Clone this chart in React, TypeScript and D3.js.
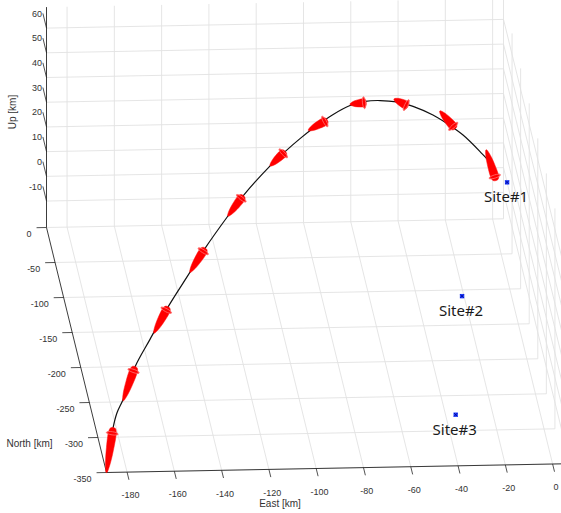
import React from "react";
import * as d3 from "d3";

const W = 561;
const H = 513;

// Axis limits (tight to data)
const eastLim: [number, number] = [-188.7, 4.6];
const northLim: [number, number] = [-350, 0];
const upLim: [number, number] = [-20.7, 68.5];

const eastTicks = [-180, -160, -140, -120, -100, -80, -60, -40, -20, 0];
const northTicks = [-350, -300, -250, -200, -150, -100, -50, 0];
const upTicks = [-10, 0, 10, 20, 30, 40, 50, 60];

// Trajectory (ENU, km)
const trajEast = [-188.7, -185.5, -183.6, -180.6, -174.8, -167.4, -158.7, -147.9, -140.6, -129.4, -122.0, -108.8, -101.5, -94.2, -86.3, -78.2, -69.8, -62.4, -55.1, -47.0, -39.0, -29.3, -21.9, -14.6, -6.3, -1.4, 0.5];
const trajNorth = [-350.0, -344.1, -340.5, -335.1, -324.3, -310.8, -294.6, -274.7, -261.3, -240.5, -227.0, -202.6, -189.1, -175.6, -161.0, -146.0, -130.6, -117.0, -103.6, -88.5, -73.8, -55.8, -42.3, -28.8, -13.5, -4.5, -1.0];
const trajUp = [-20.7, -4.4, 0.6, 4.5, 14.5, 21.8, 30.0, 38.3, 44.0, 51.0, 55.2, 60.2, 62.0, 63.3, 64.1, 64.3, 63.5, 61.2, 57.6, 52.6, 46.5, 37.7, 30.0, 21.7, 10.5, 3.3, -1.5];

// Missile markers: nose (head) and tail positions
const headEast = [-185.5, -174.8, -158.7, -140.6, -122.0, -101.5, -81.0, -62.0, -41.5, -18.5, 1.4];
const headNorth = [-344.1, -324.3, -294.6, -261.3, -227.0, -189.1, -151.3, -116.2, -78.3, -36.0, 0.0];
const headUp = [-4.4, 14.5, 30.0, 44.0, 55.2, 62.0, 63.6, 60.5, 48.0, 26.5, -5.0];
const tailEast = [-188.7, -180.6, -165.5, -147.9, -129.4, -108.8, -90.1, -69.8, -48.3, -25.9, -3.3];
const tailNorth = [-350.0, -335.1, -307.2, -274.7, -240.5, -202.6, -168.0, -130.6, -91.0, -49.6, -8.0];
const tailUp = [-20.7, 4.0, 23.2, 38.3, 51.0, 60.2, 64.4, 64.0, 54.5, 37.5, 9.6];

// Sites
const siteNames = ["Site#1", "Site#2", "Site#3"];
const siteEast = [4.6, -26.1, -41.0];
const siteNorth = [-21.0, -181.6, -350.0];
const siteUp = [0, 0, 0];

// ---- projection built from linear scales ----
const ORIGIN_X = 46.5; // screen of (east min, north max, up min)
const ORIGIN_Y = 227.5;
const eX = d3.scaleLinear().domain(eastLim).range([0, 457]);
const eY = d3.scaleLinear().domain(eastLim).range([0, -8.7]);
const nX = d3.scaleLinear().domain([northLim[1], northLim[0]]).range([0, 60]);
const nY = d3.scaleLinear().domain([northLim[1], northLim[0]]).range([0, 245]);
const uY = d3.scaleLinear().domain(upLim).range([0, -220.4]);

type Pt = [number, number];
function P(e: number, n: number, u: number): Pt {
  return [ORIGIN_X + eX(e) + nX(n), ORIGIN_Y + eY(e) + nY(n) + uY(u)];
}
const seg = (a: Pt, b: Pt) => `M${a[0].toFixed(2)},${a[1].toFixed(2)}L${b[0].toFixed(2)},${b[1].toFixed(2)}`;

const GRID = "#e2e2e2";
const AXIS = "#262626";
const TICKTXT = "#333333";
const tickFont = "'Liberation Sans', Arial, sans-serif";

function rocketShapes(h: Pt, t: Pt) {
  const dx = h[0] - t[0];
  const dy = h[1] - t[1];
  const L = Math.hypot(dx, dy) || 1;
  const ux = dx / L, uy = dy / L;
  const nx = -uy, ny = ux;
  const prof: [number, number][] = [
    [0, 0.4], [0.12, 1.8], [0.3, 2.9], [0.55, 3.7], [0.8, 4.1], [0.92, 3.8], [1.0, 2.2],
  ];
  const left = prof.map(([f, w]) => [t[0] + ux * L * f + nx * w, t[1] + uy * L * f + ny * w]);
  const right = prof.map(([f, w]) => [t[0] + ux * L * f - nx * w, t[1] + uy * L * f - ny * w]).reverse();
  const body = d3.line().curve(d3.curveCatmullRomClosed)([...left, ...right] as [number, number][]) || "";
  const fc: Pt = [t[0] + ux * L * 0.88, t[1] + uy * L * 0.88];
  const ang = (Math.atan2(uy, ux) * 180) / Math.PI;
  return { body, fc, ang };
}

export default function App() {
  const lines: string[] = [];
  const [e0, e1] = eastLim;
  const [n0, n1] = northLim;
  const [u0, u1] = upLim;

  // floor grid (up = min)
  eastTicks.forEach((e) => lines.push(seg(P(e, n0, u0), P(e, n1, u0))));
  northTicks.forEach((n) => lines.push(seg(P(e0, n, u0), P(e1, n, u0))));
  // back wall (north = max)
  eastTicks.forEach((e) => lines.push(seg(P(e, n1, u0), P(e, n1, u1))));
  upTicks.forEach((u) => lines.push(seg(P(e0, n1, u), P(e1, n1, u))));
  // side wall (east = max)
  northTicks.forEach((n) => lines.push(seg(P(e1, n, u0), P(e1, n, u1))));
  upTicks.forEach((u) => lines.push(seg(P(e1, n0, u), P(e1, n1, u))));

  const traj = trajEast.map((e, i) => P(e, trajNorth[i], trajUp[i]));
  const trajPath = d3.line().curve(d3.curveCatmullRom.alpha(0.5))(traj as [number, number][]) || "";

  const rockets = headEast.map((e, i) =>
    rocketShapes(P(e, headNorth[i], headUp[i]), P(tailEast[i], tailNorth[i], tailUp[i]))
  );

  return (
    <svg
      width={W}
      height={H}
      viewBox={`0 0 ${W} ${H}`}
      style={{ position: "absolute", left: 0, top: 0, background: "#fff" }}
    >
      <rect x={0} y={0} width={W} height={H} fill="#fff" />
      <path d={lines.join("")} stroke={GRID} strokeWidth={0.9} fill="none" />

      {/* axis lines */}
      <path
        d={seg(P(e0, n1, u0), P(e0, n1, u1)) + seg(P(e0, n1, u0), P(e0, n0, u0)) + seg(P(e0, n0, u0), P(e1, n0, u0))}
        stroke={AXIS}
        strokeWidth={0.9}
        fill="none"
      />

      {/* up ticks */}
      {upTicks.map((u) => {
        const a = P(e0, n1, u);
        const b = P(e0, n1 + 21, u);
        return (
          <g key={"u" + u}>
            <path d={seg(a, b)} stroke={AXIS} strokeWidth={0.8} />
            <text x={b[0] - 1} y={b[1] + 3.2} fontSize={9} fontFamily={tickFont} fill={TICKTXT} textAnchor="end">
              {u}
            </text>
          </g>
        );
      })}

      {/* north ticks */}
      {northTicks.map((n) => {
        const a = P(e0, n, u0);
        const b = P(e0 - 4.2, n, u0);
        return (
          <g key={"n" + n}>
            <path d={seg(a, b)} stroke={AXIS} strokeWidth={0.8} />
            <text x={b[0] - 5} y={b[1] + 9} fontSize={9} fontFamily={tickFont} fill={TICKTXT} textAnchor="end">
              {n}
            </text>
          </g>
        );
      })}

      {/* east ticks */}
      {eastTicks.map((e) => {
        const a = P(e, n0, u0);
        const b = P(e, n0 - 11, u0);
        return (
          <g key={"e" + e}>
            <path d={seg(a, b)} stroke={AXIS} strokeWidth={0.8} />
            <text x={b[0] + 1.5} y={b[1] + 18.5} fontSize={9} fontFamily={tickFont} fill={TICKTXT} textAnchor="middle">
              {e}
            </text>
          </g>
        );
      })}

      {/* axis labels */}
      <text x={280} y={507} fontSize={10} fontFamily={tickFont} fill={TICKTXT} textAnchor="middle">
        East [km]
      </text>
      <text x={29.5} y={447} fontSize={10} fontFamily={tickFont} fill={TICKTXT} textAnchor="middle">
        North [km]
      </text>
      <text
        x={0}
        y={0}
        transform="translate(15.5,112) rotate(-90)"
        fontSize={10}
        fontFamily={tickFont}
        fill={TICKTXT}
        textAnchor="middle"
      >
        Up [km]
      </text>

      {/* trajectory */}
      <path d={trajPath} stroke="#111" strokeWidth={1.2} fill="none" />

      {/* missiles */}
      {rockets.map((r, i) => (
        <g key={"r" + i}>
          <path d={r.body} fill="#ff0000" stroke="#ff1010" strokeWidth={0.5} />
          <ellipse
            cx={r.fc[0]}
            cy={r.fc[1]}
            rx={1.6}
            ry={6}
            transform={`rotate(${r.ang},${r.fc[0]},${r.fc[1]})`}
            fill="#ff0000"
            fillOpacity={0.8}
            stroke="#ff6a6a"
            strokeWidth={0.8}
          />
        </g>
      ))}

      {/* sites */}
      {siteNames.map((name, i) => {
        const p = P(siteEast[i], siteNorth[i], siteUp[i]);
        return (
          <g key={name}>
            <rect x={p[0] - 2.2} y={p[1] - 2.2} width={4.4} height={4.4} fill="#1f3fff" />
            <path
              d={`M${p[0] - 1.6},${p[1] - 1.6}L${p[0] + 1.6},${p[1] + 1.6}M${p[0] - 1.6},${p[1] + 1.6}L${p[0] + 1.6},${p[1] - 1.6}`}
              stroke="#00008b"
              strokeWidth={0.8}
            />
            <text
              x={p[0] - 1}
              y={p[1] + 20}
              fontSize={15}
              fontFamily="'Noto Sans', sans-serif"
              fill="#1a1a1a"
              textAnchor="middle"
            >
              {name}
            </text>
          </g>
        );
      })}
    </svg>
  );
}
